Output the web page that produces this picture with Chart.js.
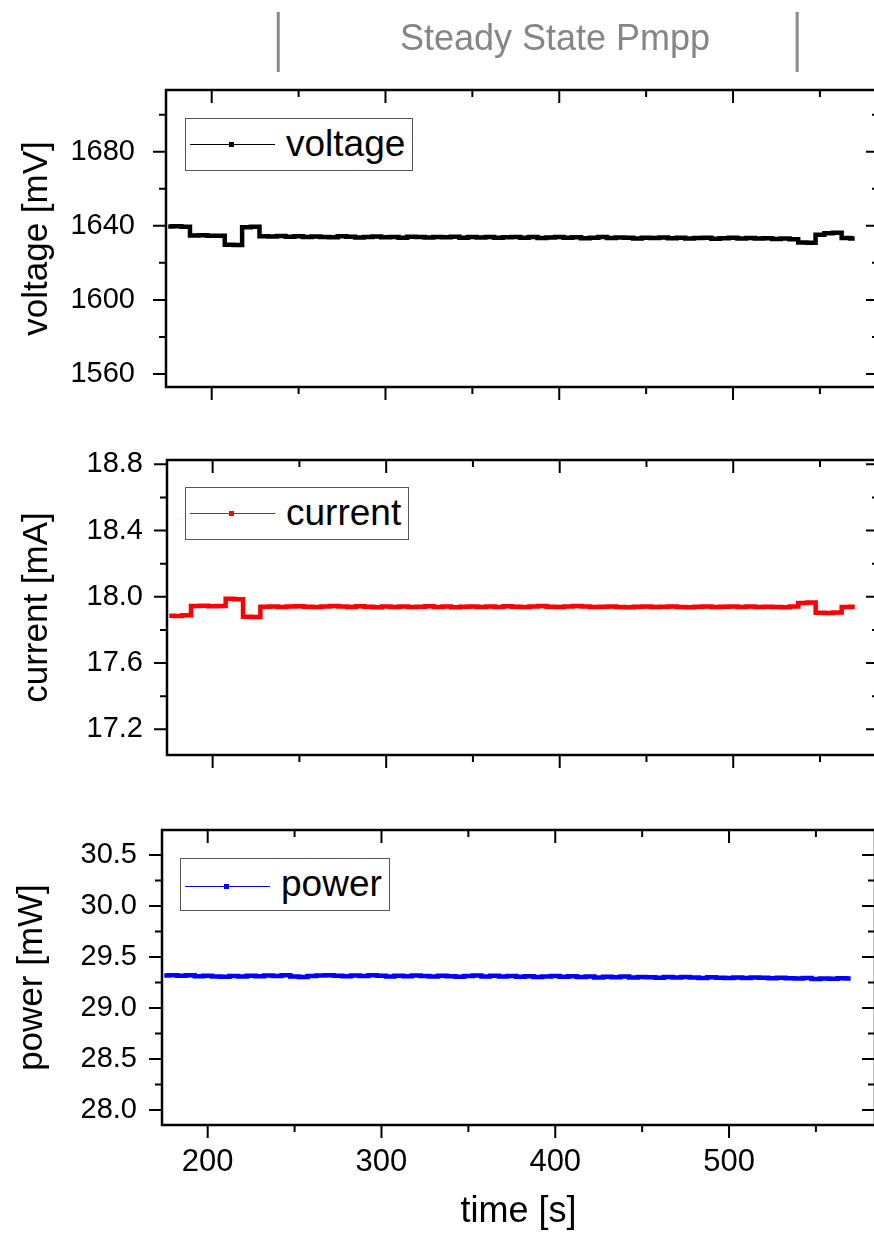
<!DOCTYPE html>
<html>
<head>
<meta charset="utf-8">
<script src="https://cdn.jsdelivr.net/npm/chart.js@4.4.0/dist/chart.umd.min.js"></script>
<style>
  html, body { margin: 0; padding: 0; background: #fff; }
  body { position: relative; width: 874px; height: 1238px; overflow: hidden; }
  canvas { position: absolute; left: 0; }
  #voltageChart { top: 0; }
  #currentChart { top: 440px; }
  #powerChart { top: 800px; }
  .legend {
    position: absolute; height: 53px; box-sizing: border-box;
    border: 1px solid #555; background: #fff; color: #000;
    font-family: 'Liberation Sans', Arial, sans-serif; font-size: 37px; line-height: 49px;
  }
  .legend .sample { position: absolute; left: 4px; width: 85px; height: 1px; }
  .legend .sample i { position: absolute; left: 39px; top: -2px; width: 5px; height: 5px; background-color: inherit; }
  .legend .lbl { position: absolute; left: 100px; top: 0; }
</style>
</head>
<body>
<canvas id="voltageChart" width="900" height="430"></canvas>
<canvas id="currentChart" width="900" height="340"></canvas>
<canvas id="powerChart" width="900" height="438"></canvas>

<div class="legend" style="left:185px;top:118px;width:228px;">
  <span class="sample" style="top:25px;background-color:#000"><i></i></span><span class="lbl">voltage</span>
</div>
<div class="legend" style="left:185px;top:487px;width:224px;">
  <span class="sample" style="top:25px;background-color:#ff0000"><i></i></span><span class="lbl">current</span>
</div>
<div class="legend" style="left:180px;top:858px;width:210px;">
  <span class="sample" style="top:27px;background-color:#0000ff"><i></i></span><span class="lbl">power</span>
</div>

<script>
// time axis [s]
const times = [175, 180, 185, 190, 195, 200, 205, 210, 215, 220, 225, 230, 235, 240, 245, 250,
    255, 260, 265, 270, 275, 280, 285, 290, 295, 300, 305, 310, 315, 320, 325, 330,
    335, 340, 345, 350, 355, 360, 365, 370, 375, 380, 385, 390, 395, 400, 405, 410,
    415, 420, 425, 430, 435, 440, 445, 450, 455, 460, 465, 470, 475, 480, 485, 490,
    495, 500, 505, 510, 515, 520, 525, 530, 535, 540, 545, 550, 555, 560, 565, 570];

// voltage [mV]
const voltage = [1639.6, 1639.8, 1639.5, 1634.8, 1634.9, 1634.7, 1634.6, 1629.8, 1629.6, 1639.2, 1639.5, 1634.4, 1634.2, 1634.5, 1634.1, 1634.3,
    1633.9, 1634.2, 1634.0, 1633.8, 1634.3, 1634.1, 1633.7, 1634.0, 1634.2, 1633.8, 1634.0, 1633.6, 1634.1, 1633.9, 1633.7, 1634.0,
    1633.8, 1634.1, 1633.6, 1633.9, 1633.7, 1634.0, 1633.5, 1633.8, 1634.0, 1633.6, 1633.9, 1633.4, 1633.7, 1633.9, 1633.5, 1633.8,
    1633.3, 1633.6, 1633.9, 1633.4, 1633.7, 1633.5, 1633.2, 1633.6, 1633.4, 1633.7, 1633.3, 1633.5, 1633.1, 1633.4, 1633.6, 1633.0,
    1633.3, 1633.5, 1633.2, 1633.4, 1633.1, 1633.3, 1632.9, 1633.1, 1632.8, 1631.0, 1630.8, 1635.2, 1636.0, 1636.3, 1633.4, 1633.1];

// current [mA]
const current = [17.886, 17.884, 17.888, 17.944, 17.946, 17.943, 17.945, 17.988, 17.986, 17.880, 17.878, 17.940, 17.942, 17.939, 17.941, 17.943,
    17.940, 17.938, 17.942, 17.944, 17.941, 17.939, 17.943, 17.940, 17.937, 17.941, 17.939, 17.942, 17.938, 17.940, 17.943, 17.939,
    17.941, 17.937, 17.940, 17.942, 17.938, 17.941, 17.939, 17.943, 17.940, 17.938, 17.941, 17.944, 17.940, 17.939, 17.942, 17.945,
    17.941, 17.938, 17.940, 17.942, 17.939, 17.937, 17.940, 17.941, 17.938, 17.940, 17.942, 17.939, 17.937, 17.940, 17.941, 17.938,
    17.940, 17.942, 17.939, 17.941, 17.938, 17.940, 17.939, 17.937, 17.941, 17.962, 17.965, 17.904, 17.902, 17.906, 17.938, 17.940];

// power [mW]
const power = [29.318, 29.322, 29.315, 29.320, 29.312, 29.317, 29.310, 29.306, 29.314, 29.308, 29.316, 29.312, 29.318, 29.313, 29.320, 29.309,
    29.305, 29.314, 29.319, 29.322, 29.315, 29.311, 29.318, 29.313, 29.320, 29.316, 29.310, 29.317, 29.312, 29.319, 29.314, 29.308,
    29.316, 29.311, 29.306, 29.313, 29.318, 29.310, 29.315, 29.309, 29.314, 29.307, 29.312, 29.304, 29.309, 29.313, 29.306, 29.311,
    29.303, 29.308, 29.300, 29.306, 29.302, 29.309, 29.299, 29.305, 29.301, 29.296, 29.303, 29.298, 29.305, 29.300, 29.295, 29.302,
    29.297, 29.293, 29.299, 29.294, 29.300, 29.296, 29.291, 29.297, 29.292, 29.288, 29.294, 29.285, 29.290, 29.286, 29.292, 29.288];

const timeTicks = [200, 300, 400, 500];
const voltageTicks = [1560, 1600, 1640, 1680];
const currentTicks = [17.2, 17.6, 18.0, 18.4, 18.8];
const powerTicks = [28.0, 28.5, 29.0, 29.5, 30.0, 30.5];
const steadyState = [238.3, 536.9];

const FONT = "'Liberation Sans', Arial, sans-serif";

// major ticks plus one minor tick halfway between them, over the whole scale
function tickValues(scale) {
    const major = scale.ticks.map(t => t.value);
    const half = (major[1] - major[0]) / 2;
    const vals = [];
    let v = major[0];
    while (v - half >= scale.min) {
        v -= half;
    }
    for (; v <= scale.max + 1e-9; v += half) {
        vals.push({ v, isMajor: major.some(m => Math.abs(m - v) < half / 10) });
    }
    return vals;
}

// Origin-style frame: ticks out on left/bottom, in on top/right
const frameTicks = {
    id: 'frameTicks',
    afterDraw(chart) {
        const { ctx, chartArea: a, scales: { x, y } } = chart;
        ctx.save();
        ctx.strokeStyle = '#000';
        ctx.lineWidth = 2;
        ctx.beginPath();
        tickValues(x).forEach(({ v, isMajor }) => {
            const px = x.getPixelForValue(v);
            const len = isMajor ? 13 : 7;
            ctx.moveTo(px, a.bottom);
            ctx.lineTo(px, a.bottom + len);
            ctx.moveTo(px, a.top);
            ctx.lineTo(px, a.top + len);
        });
        tickValues(y).forEach(({ v, isMajor }) => {
            const py = y.getPixelForValue(v);
            const len = isMajor ? 13 : 7;
            ctx.moveTo(a.left - len, py);
            ctx.lineTo(a.left, py);
            ctx.moveTo(a.right - len, py);
            ctx.lineTo(a.right, py);
        });
        ctx.stroke();
        ctx.lineWidth = 2.5;
        ctx.strokeRect(a.left, a.top, a.width, a.height);
        ctx.restore();
    }
};

const steadyMarks = {
    id: 'steadyMarks',
    afterDraw(chart) {
        const { ctx, scales: { x } } = chart;
        ctx.save();
        ctx.strokeStyle = '#8a8a8a';
        ctx.lineWidth = 3;
        steadyState.forEach(t => {
            const px = x.getPixelForValue(t);
            ctx.beginPath();
            ctx.moveTo(px, 12);
            ctx.lineTo(px, 72);
            ctx.stroke();
        });
        ctx.fillStyle = '#858585';
        ctx.font = '36px ' + FONT;
        ctx.textAlign = 'center';
        ctx.textBaseline = 'middle';
        ctx.fillText('Steady State Pmpp', 555, 40);
        ctx.restore();
    }
};

function createPanel(canvasId, cfg) {
    const canvas = document.getElementById(canvasId);
    if (!canvas) {
        return;
    }
    // label offsets go through tickLength (grid hidden) so they don't pad the chart area
    return new Chart(canvas, {
        type: 'line',
        data: {
            datasets: [{
                data: times.map((t, i) => ({ x: t, y: cfg.values[i] })),
                borderColor: cfg.color,
                borderWidth: 4.5,
                pointRadius: 0,
                stepped: 'middle',
            }]
        },
        options: {
            responsive: false,
            animation: false,
            layout: { padding: cfg.padding },
            plugins: {
                legend: { display: false },
                tooltip: { enabled: false }
            },
            scales: {
                x: {
                    type: 'linear',
                    min: 173.7,
                    max: 584,
                    afterBuildTicks: (s) => { s.ticks = timeTicks.map(value => ({ value })); },
                    afterFit: (s) => { s.height = cfg.xHeight; },
                    grid: { display: false, drawTicks: true, tickLength: 19 },
                    border: { display: false },
                    ticks: {
                        display: cfg.showX,
                        color: '#000',
                        font: { family: FONT, size: 31 },
                        padding: 0,
                        maxRotation: 0
                    },
                    title: {
                        display: cfg.showX,
                        text: 'time [s]',
                        color: '#000',
                        font: { family: FONT, size: 36 },
                        padding: { top: 0, bottom: 4 }
                    }
                },
                y: {
                    min: cfg.min,
                    max: cfg.max,
                    afterBuildTicks: (s) => { s.ticks = cfg.ticks.map(value => ({ value })); },
                    afterFit: (s) => { s.width = cfg.yWidth; },
                    grid: { display: false, drawTicks: true, tickLength: cfg.labelPad },
                    border: { display: false },
                    ticks: {
                        color: '#000',
                        font: { family: FONT, size: 29 },
                        padding: 0,
                        callback: cfg.format
                    },
                    title: {
                        display: true,
                        text: cfg.title,
                        color: '#000',
                        font: { family: FONT, size: 35 },
                        padding: { top: cfg.titlePad, bottom: 0 }
                    }
                }
            }
        },
        plugins: cfg.extra ? [frameTicks, cfg.extra] : [frameTicks]
    });
}

createPanel('voltageChart', {
    values: voltage, color: '#000000', ticks: voltageTicks,
    min: 1553, max: 1713.3, title: 'voltage [mV]', format: (v) => v.toFixed(0),
    padding: { top: 90, right: 21, bottom: 0, left: 0 },
    yWidth: 166, xHeight: 43, labelPad: 31, titlePad: 16, showX: false,
    extra: steadyMarks
});

createPanel('currentChart', {
    values: current, color: '#ff0000', ticks: currentTicks,
    min: 17.045, max: 18.826, title: 'current [mA]', format: (v) => v.toFixed(1),
    padding: { top: 20, right: 21, bottom: 0, left: 0 },
    yWidth: 167, xHeight: 25, labelPad: 24, titlePad: 16, showX: false
});

createPanel('powerChart', {
    values: power, color: '#0000ff', ticks: powerTicks,
    min: 27.853, max: 30.745, title: 'power [mW]', format: (v) => v.toFixed(1),
    padding: { top: 30, right: 25, bottom: 0, left: 0 },
    yWidth: 162, xHeight: 113, labelPad: 25, titlePad: 11, showX: true
});
</script>
</body>
</html>
